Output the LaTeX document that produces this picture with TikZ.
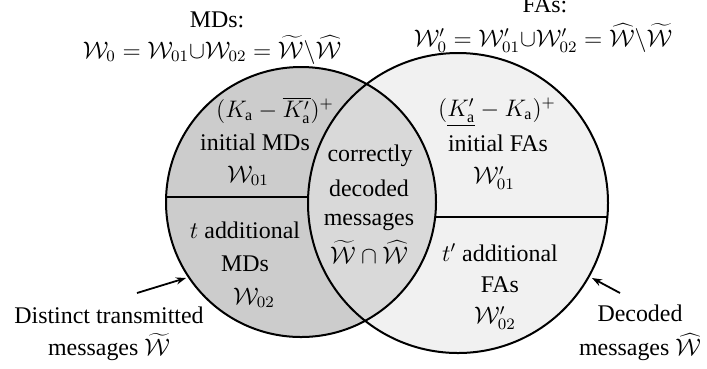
\documentclass[tikz,border=0pt]{standalone}
\usepackage{fontspec}
\setmainfont{Liberation Serif}
\usetikzlibrary{arrows.meta}
\definecolor{mdfill}{gray}{0.80}
\definecolor{okfill}{gray}{0.85}
\definecolor{fafill}{gray}{0.945}
\tikzset{
  lbl/.style={font=\fontsize{12}{14}\selectfont, inner sep=0pt, align=center},
  outline/.style={line width=1bp},
  divider/.style={line width=0.9bp},
  pointer/.style={line width=0.9bp, -{Stealth[length=5bp,width=3.6bp]}}
}
\begin{document}
\begin{tikzpicture}[x=0.5bp, y=-0.5bp]
\useasboundingbox (0,0) rectangle (707,368);
% circles
\coordinate (cl) at (301,202);
\coordinate (cr) at (458,203);
\fill[fafill] (cr) circle[radius=150];
\fill[mdfill] (cl) circle[radius=135];
\begin{scope}
  \clip (cl) circle[radius=135];
  \draw[divider] (150,197) -- (320,197);
\end{scope}
\begin{scope}
  \clip (cr) circle[radius=150];
  \draw[divider] (420,217) -- (620,217);
\end{scope}
\begin{scope}
  \clip (cl) circle[radius=135];
  \fill[okfill] (cr) circle[radius=150];
\end{scope}
\draw[outline] (cl) circle[radius=135];
\draw[outline] (cr) circle[radius=150];
% titles
\node[lbl] (mdt) at (217,20) {MDs:};
\node[lbl] (mdf) at (212,50) {$\mathcal{W}_0=\mathcal{W}_{01}{\cup}\mathcal{W}_{02}=\widetilde{\mathcal{W}}\backslash\widehat{\mathcal{W}}$};
\node[lbl] (fat) at (545,5) {FAs:};
\node[lbl] (faf) at (543,38) {$\mathcal{W}'_0=\mathcal{W}'_{01}{\cup}\mathcal{W}'_{02}=\widehat{\mathcal{W}}\backslash\widetilde{\mathcal{W}}$};
% left region
\node[lbl] (a1) at (275,110) {$(K_{\mathrm{a}}-\overline{K'_{\mathrm{a}}})^{+}$};
\node[lbl] (a2) at (255,142) {initial MDs};
\node[lbl] (a3) at (248,176) {$\mathcal{W}_{01}$};
\node[lbl] (b1) at (245,230) {$t$ additional};
\node[lbl] (b2) at (245,264) {MDs};
\node[lbl] (b3) at (254,298) {$\mathcal{W}_{02}$};
% intersection
\node[lbl] (c1) at (370,156) {correctly};
\node[lbl] (c2) at (369,188) {decoded};
\node[lbl] (c3) at (369,222) {messages};
\node[lbl] (c4) at (369,252) {$\widetilde{\mathcal{W}}\cap\widehat{\mathcal{W}}$};
% right region
\node[lbl] (d1) at (497,112) {$(\underline{K'_{\mathrm{a}}}-K_{\mathrm{a}})^{+}$};
\node[lbl] (d2) at (498,143) {initial FAs};
\node[lbl] (d3) at (494,178) {$\mathcal{W}'_{01}$};
\node[lbl] (e1) at (500,253) {$t'$ additional};
\node[lbl] (e2) at (500,285) {FAs};
\node[lbl] (e3) at (495,318) {$\mathcal{W}'_{02}$};
% outside labels
\node[lbl] (f1) at (109,315) {Distinct transmitted};
\node[lbl] (f2) at (109,347) {messages $\widetilde{\mathcal{W}}$};
\node[lbl] (g1) at (640,313) {Decoded};
\node[lbl] (g2) at (640,347) {messages $\widehat{\mathcal{W}}$};
\coordinate (ptl) at (137,293);
\coordinate (tipl) at (186,278);
\coordinate (ptr) at (620,293);
\coordinate (tipr) at (592,278);
\draw[pointer] (ptl) -- (tipl);
\draw[pointer] (ptr) -- (tipr);
\end{tikzpicture}
\end{document}
